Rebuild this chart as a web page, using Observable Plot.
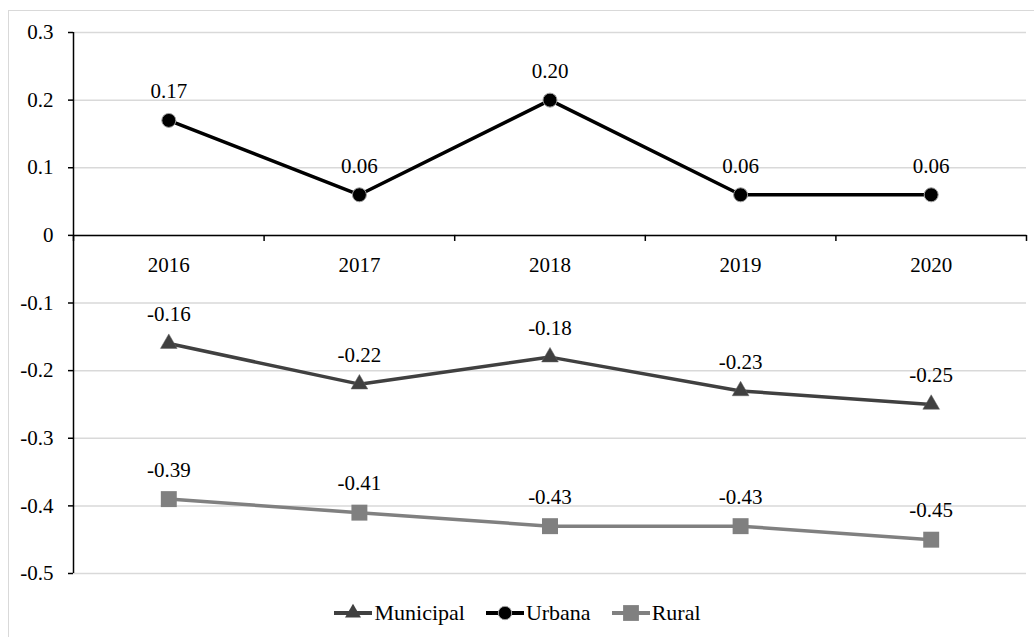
<!DOCTYPE html>
<html>
<head>
<meta charset="utf-8">
<script src="https://cdn.jsdelivr.net/npm/d3@7"></script>
<script src="https://cdn.jsdelivr.net/npm/@observablehq/plot@0.6"></script>
<style>
  html, body { margin: 0; padding: 0; background: #fff; }
  #wrap { position: relative; width: 1034px; height: 637px; overflow: hidden; font-family: Times, Tinos, serif; }
  #frame { position: absolute; left: 8px; top: 10px; width: 1040px; height: 700px; border-left: 1.5px solid #d9d9d9; border-top: 1.5px solid #d9d9d9; box-sizing: border-box; pointer-events: none; }
  #chart { position: absolute; left: 0; top: 0; }
  #legend { position: absolute; left: 0; top: 596px; width: 1034px; height: 34px; display: flex; justify-content: center; align-items: center; font-size: 22px; color: #000; }
  .item { display: flex; align-items: center; margin: 0 10px; }
  .item svg { margin-right: 1px; }
</style>
</head>
<body>
<div id="wrap">
  <div id="frame"></div>
  <div id="chart"></div>
  <div id="legend"></div>
</div>
<script>
const years = [2016, 2017, 2018, 2019, 2020];
const municipal = [-0.16, -0.22, -0.18, -0.23, -0.25];
const urbana = [0.17, 0.06, 0.20, 0.06, 0.06];
const rural = [-0.39, -0.41, -0.43, -0.43, -0.45];
const yTicks = [0.3, 0.2, 0.1, 0, -0.1, -0.2, -0.3, -0.4, -0.5];
const xBoundaries = [2015.5, 2016.5, 2017.5, 2018.5, 2019.5, 2020.5];
const seriesNames = ["Municipal", "Urbana", "Rural"];
const seriesColors = ["#404040", "#000000", "#808080"];

const rows = (vals) => years.map((y, i) => ({year: y, value: vals[i]}));
const mun = rows(municipal), urb = rows(urbana), rur = rows(rural);
const fmtTick = d => d === 0 ? "0" : d.toFixed(1);
const fmtLab = d => d.value.toFixed(2);
const FS = 21;
const FONT = "Times, Tinos, serif";

const chart = Plot.plot({
  width: 1034,
  height: 596,
  marginLeft: 73,
  marginRight: 8,
  marginTop: 32,
  marginBottom: 23,
  style: {fontFamily: FONT, fontSize: FS + "px", color: "#000", background: "transparent"},
  x: {type: "linear", domain: [2015.5, 2020.5], axis: null},
  y: {domain: [-0.5, 0.3], axis: null},
  marks: [
    Plot.gridY(yTicks, {stroke: "#d9d9d9", strokeOpacity: 1, strokeWidth: 1.5}),
    Plot.axisY(yTicks, {label: null, tickSize: 5, tickPadding: 15, tickFormat: fmtTick, stroke: "#000", strokeWidth: 1.5, fill: "#000", fontSize: FS, fontFamily: FONT}),
    Plot.ruleX([2015.5], {stroke: "#000", strokeWidth: 1.5}),
    Plot.ruleY([0], {stroke: "#000", strokeWidth: 1.5}),
    Plot.ruleX(xBoundaries, {y1: 0, y2: -0.009, stroke: "#000", strokeWidth: 1.5}),
    Plot.text(years, {x: d => d, y: 0, dy: 30, text: d => String(d), fill: "#000", fontSize: FS, fontFamily: FONT}),
    // Municipal
    Plot.line(mun, {x: "year", y: "value", stroke: seriesColors[0], strokeWidth: 3.5}),
    Plot.dot(mun, {x: "year", y: "value", symbol: "triangle", r: 6.2, fill: seriesColors[0], stroke: "#606060", strokeWidth: 0.5}),
    Plot.text(mun, {x: "year", y: "value", text: fmtLab, dy: -29, fill: "#000", fontSize: FS, fontFamily: FONT}),
    // Urbana
    Plot.line(urb, {x: "year", y: "value", stroke: seriesColors[1], strokeWidth: 3.5}),
    Plot.dot(urb, {x: "year", y: "value", symbol: "circle", r: 7, fill: seriesColors[1], stroke: "#a0a0a0", strokeWidth: 1}),
    Plot.text(urb, {x: "year", y: "value", text: fmtLab, dy: -29, fill: "#000", fontSize: FS, fontFamily: FONT}),
    // Rural
    Plot.line(rur, {x: "year", y: "value", stroke: seriesColors[2], strokeWidth: 3.5}),
    Plot.dot(rur, {x: "year", y: "value", symbol: "square", r: 9, fill: seriesColors[2]}),
    Plot.text(rur, {x: "year", y: "value", text: fmtLab, dy: -29, fill: "#000", fontSize: FS, fontFamily: FONT})
  ]
});
document.getElementById("chart").appendChild(chart);

// Legend
const symbols = ["triangle", "circle", "square"];
const legend = d3.select("#legend");
seriesNames.forEach((name, i) => {
  const item = legend.append("div").attr("class", "item");
  const svg = item.append("svg").attr("width", 40).attr("height", 20);
  svg.append("line").attr("x1", 1).attr("x2", 39).attr("y1", 10).attr("y2", 10)
    .attr("stroke", seriesColors[i]).attr("stroke-width", 4);
  const sizes = [110, 140, 250];
  svg.append("path")
    .attr("d", d3.symbol(d3["symbol" + symbols[i][0].toUpperCase() + symbols[i].slice(1)], sizes[i])())
    .attr("transform", "translate(20,10)")
    .attr("fill", seriesColors[i])
    .attr("stroke", i === 1 ? "#a0a0a0" : "none");
  item.append("span").text(name);
});
</script>
</body>
</html>
